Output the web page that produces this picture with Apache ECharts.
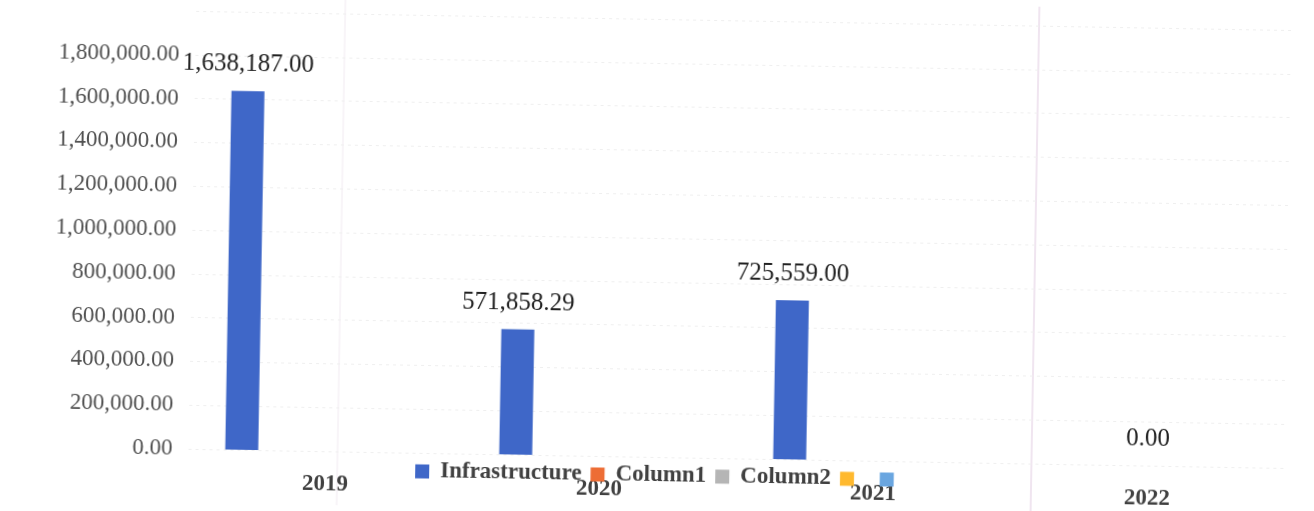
<!DOCTYPE html>
<html>
<head>
<meta charset="utf-8">
<script src="https://cdn.jsdelivr.net/npm/echarts@6/dist/echarts.min.js"></script>
<style>
  html, body { margin: 0; padding: 0; background: #ffffff; overflow: hidden; }
  #chart { width: 1314px; height: 511px; transform: rotate(1deg); transform-origin: 50% 50%; }
</style>
</head>
<body>
<div id="chart"></div>
<script>
// Yearly amounts per category
const categories = ['2019', '2020', '2021', '2022'];
const infrastructure = [1638187.00, 571858.29, 725559.00, 0.00];
const column1 = ['-', '-', '-', '-'];
const column2 = ['-', '-', '-', '-'];
const column3 = ['-', '-', '-', '-'];
const column4 = ['-', '-', '-', '-'];
const seriesNames = ['Infrastructure', 'Column1', 'Column2', ' ', '  '];

// Value axis ticks
const yMin = 0;
const yMax = 2000000;
const yStep = 200000;

const fmt = v => Number(v).toLocaleString('en-US', { minimumFractionDigits: 2, maximumFractionDigits: 2 });
const serif = 'Liberation Serif';

const chart = echarts.init(document.getElementById('chart'), null, { renderer: 'canvas' });

function barSeries(name, data, color, extra) {
  return Object.assign({
    name: name,
    type: 'bar',
    data: data,
    barWidth: 33,
    barGap: '27%',
    itemStyle: { color: color },
    emphasis: { disabled: true }
  }, extra || {});
}

const infraData = infrastructure.map((v, i) =>
  i === infrastructure.length - 1 ? { value: v, label: { offset: [84, 0] } } : v
);

chart.setOption({
  animation: false,
  backgroundColor: '#ffffff',
  grid: { left: 192, right: 26, top: 19, bottom: 54, containLabel: false },
  legend: {
    data: seriesNames,
    left: 414,
    top: 459,
    itemWidth: 14,
    itemHeight: 14,
    itemGap: 9,
    icon: 'rect',
    selectedMode: false,
    textStyle: { fontFamily: serif, fontSize: 23, fontWeight: 'bold', color: '#404040', padding: [0, 0, 0, 6] }
  },
  xAxis: {
    type: 'category',
    data: categories,
    axisLine: { show: false },
    axisTick: { show: false },
    splitLine: { show: false },
    axisLabel: { fontFamily: serif, fontSize: 23, fontWeight: 'bold', color: '#404040', margin: 22 }
  },
  yAxis: {
    type: 'value',
    min: yMin,
    max: yMax,
    interval: yStep,
    axisLine: { show: false },
    axisTick: { show: false },
    splitLine: { lineStyle: { color: '#efefef', type: [3, 4], width: 1 } },
    axisLabel: {
      fontFamily: serif, fontSize: 23, color: '#505050', margin: 16,
      showMaxLabel: false,
      formatter: v => fmt(v)
    }
  },
  graphic: [
    { type: 'line', shape: { x1: 341, y1: 0, x2: 341, y2: 511 }, style: { stroke: '#f1eaf1', lineWidth: 1 }, silent: true, z: 0 },
    { type: 'line', shape: { x1: 1035, y1: 0, x2: 1035, y2: 511 }, style: { stroke: '#e6d4e6', lineWidth: 1.2 }, silent: true, z: 0 }
  ],
  series: [
    barSeries(seriesNames[0], infraData, '#3f67c8', {
      label: {
        show: true,
        position: 'top',
        distance: 14,
        fontFamily: serif,
        fontSize: 25,
        color: '#222222',
        formatter: p => fmt(p.value)
      }
    }),
    barSeries(seriesNames[1], column1, '#ed6d35'),
    barSeries(seriesNames[2], column2, '#b5b5b5'),
    barSeries(seriesNames[3], column3, '#ffb92e'),
    barSeries(seriesNames[4], column4, '#6aa6e0')
  ]
});
</script>
</body>
</html>
